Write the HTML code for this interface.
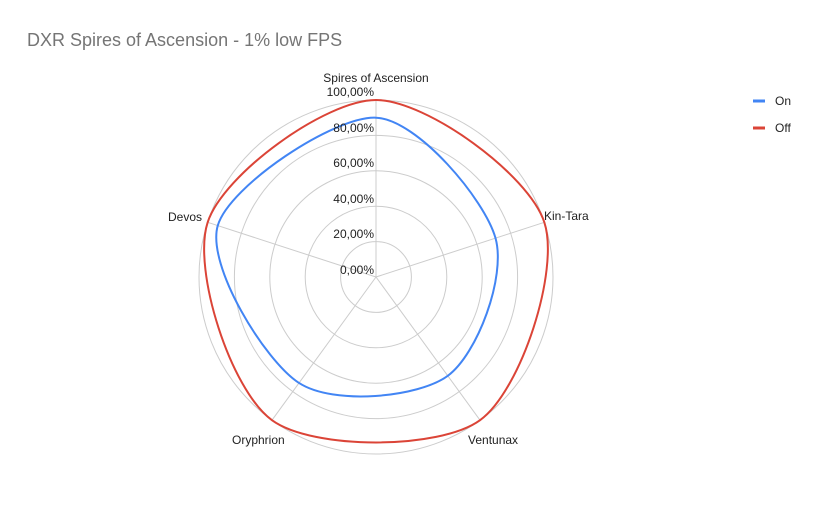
<!DOCTYPE html>
<html><head><meta charset="utf-8"><style>
body{margin:0;background:#fff}
svg text{font-family:"Liberation Sans",Arial,sans-serif}
</style></head><body>
<svg id="s" width="830" height="512" xmlns="http://www.w3.org/2000/svg">
<rect width="830" height="512" fill="#fff"/>
<text x="27" y="46" font-size="18" fill="#757575">DXR Spires of Ascension - 1% low FPS</text>
<g id="grid" fill="none" stroke="#cccccc" stroke-width="1"></g>
<g id="series"></g>
<g font-size="12" fill="#222" text-anchor="end">
<text x="374" y="274">0,00%</text>
<text x="374" y="238">20,00%</text>
<text x="374" y="203">40,00%</text>
<text x="374" y="167">60,00%</text>
<text x="374" y="132">80,00%</text>
<text x="374" y="96">100,00%</text>
</g>
<g font-size="12" fill="#222">
<text x="376" y="82" text-anchor="middle">Spires of Ascension</text>
<text x="544" y="220">Kin-Tara</text>
<text x="468" y="444">Ventunax</text>
<text x="232" y="444">Oryphrion</text>
<text x="202" y="221" text-anchor="end">Devos</text>
</g>
<line x1="753" y1="101" x2="765" y2="101" stroke="#4285f4" stroke-width="3"/>
<text x="775" y="105" font-size="12" fill="#222">On</text>
<line x1="753" y1="128" x2="765" y2="128" stroke="#db4437" stroke-width="3"/>
<text x="775" y="132" font-size="12" fill="#222">Off</text>
</svg>
<script>
var cx=376,cy=277,R=177,ns="http://www.w3.org/2000/svg";
var g=document.getElementById('grid'),sr=document.getElementById('series');
for(var k=1;k<=5;k++){var c=document.createElementNS(ns,'circle');c.setAttribute('cx',cx);c.setAttribute('cy',cy);c.setAttribute('r',R*k/5);g.appendChild(c);}
function pt(i,v){var a=-Math.PI/2+i*2*Math.PI/5;return[cx+R*v*Math.cos(a),cy+R*v*Math.sin(a)];}
for(var i=0;i<5;i++){var p=pt(i,1),l=document.createElementNS(ns,'line');l.setAttribute('x1',cx);l.setAttribute('y1',cy);l.setAttribute('x2',p[0]);l.setAttribute('y2',p[1]);g.appendChild(l);}
function path(vals,col){var P=vals.map(function(v,i){return pt(i,v)}),k=0.15,d='M'+P[0][0]+' '+P[0][1];
for(var i=0;i<5;i++){var p0=P[(i+4)%5],p1=P[i],p2=P[(i+1)%5],p3=P[(i+2)%5];
d+=' C'+(p1[0]+k*(p2[0]-p0[0]))+' '+(p1[1]+k*(p2[1]-p0[1]))+' '+(p2[0]-k*(p3[0]-p1[0]))+' '+(p2[1]-k*(p3[1]-p1[1]))+' '+p2[0]+' '+p2[1];}
var e=document.createElementNS(ns,'path');e.setAttribute('d',d+'Z');e.setAttribute('fill','none');e.setAttribute('stroke',col);e.setAttribute('stroke-width','2');sr.appendChild(e);}
path([0.90,0.71,0.69,0.74,0.94],'#4285f4');
path([1,1,1,1,1],'#db4437');
</script>
</body></html>
